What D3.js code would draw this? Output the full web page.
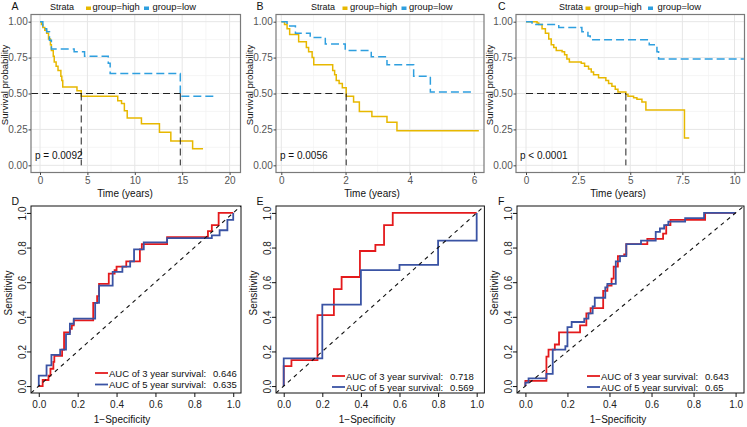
<!DOCTYPE html>
<html><head><meta charset="utf-8">
<script src="https://cdn.jsdelivr.net/npm/d3@7"></script>
<style>body{margin:0;background:#fff}svg{display:block;font-family:"Liberation Sans",Arial,sans-serif}</style>
</head><body><svg id="chart" width="747" height="427"></svg>
<script>
// ---------------- DATA ----------------
const panelLetters = ["A", "B", "C", "D", "E", "F"];
const strataTitle = "Strata";
const strataLabels = ["group=high", "group=low"];
const kmPValues = ["p = 0.0092", "p = 0.0056", "p < 0.0001"];
const kmXTicks = [[0, 5, 10, 15, 20], [0, 2, 4, 6], [0, 2.5, 5, 7.5, 10]];
const kmXTickLabels = [["0", "5", "10", "15", "20"], ["0", "2", "4", "6"], ["0", "2.5", "5", "7.5", "10"]];
const kmYTicks = [0, 0.25, 0.5, 0.75, 1];
const kmYTickLabels = ["0.00", "0.25", "0.50", "0.75", "1.00"];
const kmMedians = [[4.35, 14.8], [2.02], [4.79]];
// [time, survival] steps
const kmAHigh = [[0,1],[0.15,0.98],[0.3,0.96],[0.5,0.94],[0.7,0.92],[0.9,0.88],[1.1,0.84],[1.2,0.80],[1.4,0.76],[1.5,0.72],[1.7,0.69],[1.9,0.66],[2.2,0.62],[2.3,0.59],[2.4,0.545],[3.9,0.52],[4.35,0.48],[8.2,0.45],[8.6,0.43],[8.9,0.38],[9.2,0.33],[10.7,0.29],[12.6,0.23],[13.8,0.17],[16.1,0.115],[17.2,0.115]];
const kmALow = [[0,1],[0.3,0.95],[0.7,0.93],[1.0,0.87],[1.2,0.81],[3.6,0.79],[4.7,0.76],[7.2,0.71],[7.4,0.64],[14.8,0.48],[18.7,0.48]];
const kmBHigh = [[0,1],[0.1,0.98],[0.18,0.95],[0.26,0.91],[0.54,0.86],[0.78,0.82],[0.85,0.79],[0.96,0.75],[1.01,0.70],[1.6,0.66],[1.66,0.63],[1.71,0.59],[1.8,0.57],[1.9,0.54],[2.02,0.48],[2.25,0.44],[2.43,0.375],[2.82,0.34],[3.29,0.30],[3.6,0.24],[6.15,0.24]];
const kmBLow = [[0,1],[0.18,0.97],[0.44,0.92],[0.9,0.89],[1.37,0.845],[1.99,0.80],[2.8,0.755],[3.29,0.70],[4.12,0.62],[4.64,0.51],[5.99,0.51]];
const kmCHigh = [[0,1],[0.53,0.99],[0.61,0.98],[0.77,0.95],[0.93,0.92],[1.09,0.88],[1.21,0.84],[1.33,0.82],[1.45,0.80],[1.73,0.79],[1.85,0.77],[1.96,0.74],[2.08,0.72],[2.65,0.71],[2.81,0.69],[3.0,0.67],[3.13,0.65],[3.24,0.63],[3.48,0.61],[3.83,0.59],[3.96,0.57],[4.12,0.55],[4.28,0.53],[4.41,0.51],[4.79,0.495],[4.89,0.48],[5.16,0.47],[5.32,0.46],[5.56,0.44],[5.75,0.385],[7.60,0.19],[7.83,0.19]];
const kmCLow = [[0,1],[0.29,0.98],[1.57,0.96],[2.68,0.93],[2.97,0.90],[3.08,0.875],[5.91,0.84],[6.28,0.79],[6.36,0.74],[10.45,0.74]];

const rocTicks = [0, 0.2, 0.4, 0.6, 0.8, 1.0];
const rocTickLabels = ["0.0", "0.2", "0.4", "0.6", "0.8", "1.0"];
const rocLegendLabels = ["AUC of 3 year survival:", "AUC of 5 year survival:"];
const rocAUC = [["0.646", "0.635"], ["0.718", "0.569"], ["0.643", "0.65"]];
// [1-specificity, sensitivity] steps
const rocD3y = [[0,0],[0.02,0.035],[0.05,0.06],[0.06,0.10],[0.075,0.14],[0.08,0.175],[0.12,0.21],[0.13,0.31],[0.16,0.33],[0.17,0.35],[0.18,0.38],[0.28,0.48],[0.30,0.52],[0.31,0.59],[0.36,0.65],[0.39,0.67],[0.40,0.69],[0.45,0.72],[0.52,0.79],[0.53,0.82],[0.66,0.86],[0.87,0.895],[0.89,0.93],[0.925,1.0],[1,1]];
const rocD5y = [[0,0],[0,0.06],[0.04,0.12],[0.065,0.18],[0.11,0.21],[0.14,0.30],[0.16,0.36],[0.18,0.39],[0.29,0.48],[0.31,0.58],[0.38,0.66],[0.43,0.69],[0.47,0.72],[0.49,0.79],[0.54,0.83],[0.66,0.855],[0.89,0.87],[0.93,0.90],[0.97,0.96],[1,1]];
const rocE3y = [[0,0],[0,0.115],[0.04,0.15],[0.175,0.41],[0.26,0.56],[0.30,0.63],[0.395,0.78],[0.475,0.815],[0.52,0.93],[0.565,1.0],[1,1]];
const rocE5y = [[0,0],[0,0.16],[0.2,0.47],[0.4,0.67],[0.6,0.70],[0.8,0.84],[1,1]];
const rocF3y = [[0,0],[0,0.03],[0.1,0.17],[0.11,0.21],[0.14,0.24],[0.16,0.31],[0.26,0.35],[0.29,0.42],[0.31,0.45],[0.37,0.55],[0.39,0.58],[0.41,0.62],[0.42,0.69],[0.44,0.75],[0.47,0.76],[0.48,0.82],[0.58,0.85],[0.655,0.88],[0.67,0.93],[0.69,0.96],[0.855,1.0],[1,1]];
const rocF5y = [[0,0],[0,0.02],[0.015,0.045],[0.1,0.07],[0.13,0.21],[0.19,0.23],[0.2,0.34],[0.22,0.37],[0.28,0.39],[0.3,0.42],[0.32,0.46],[0.33,0.51],[0.38,0.57],[0.39,0.59],[0.43,0.72],[0.45,0.75],[0.48,0.82],[0.55,0.84],[0.62,0.89],[0.64,0.91],[0.66,0.93],[0.68,0.95],[0.76,0.97],[0.85,1.0],[1,1]];

// ---------------- LAYOUT / STYLE ----------------
const COL_HIGH = "#E7B800", COL_LOW = "#2E9FDF";
const COL_R3 = "#E41A1C", COL_R5 = "#3A53A4";
const FONT = '"Liberation Sans",Arial,sans-serif';
const svg = d3.select("#chart");

const kmLayout = [
  {box: {x0: 31, x1: 240.5, y0: 14.5, y1: 172.5}, xDomain: [-0.95, 21.15], minorStep: 2.5, hStart: -0.95,
   legend: {strata: 50, k1: 86, t1: 92.5, k2: 144, t2: 152.5}, letterX: 11.5, xTitle: 125},
  {box: {x0: 276, x1: 484, y0: 14.5, y1: 172.5}, xDomain: [-0.165, 6.31], minorStep: 1, hStart: 0,
   legend: {strata: 311, k1: 342.5, t1: 350, k2: 401.5, t2: 409}, letterX: 256.5, xTitle: 372},
  {box: {x0: 516, x1: 744.5, y0: 14.5, y1: 172.5}, xDomain: [-0.48, 10.48], minorStep: 1.25, hStart: 0,
   legend: {strata: 559, k1: 585.5, t1: 594.5, k2: 648, t2: 657.5}, letterX: 498, xTitle: 618}
];
const kmSeries = [[kmAHigh, kmALow], [kmBHigh, kmBLow], [kmCHigh, kmCLow]];

const rocLayout = [
  {box: {x0: 31, x1: 241, y0: 206, y1: 393}, legX: 95, legY: [373, 384.5], letterX: 11.5, xTitle: 122, yTitle: 293},
  {box: {x0: 276, x1: 484.4, y0: 206, y1: 393}, legX: 332, legY: [376, 387], letterX: 256.5, xTitle: 367, yTitle: 293},
  {box: {x0: 517, x1: 744, y0: 206, y1: 393}, legX: 587, legY: [376, 387], letterX: 498, xTitle: 618, yTitle: 293}
];
const rocSeries = [[rocD3y, rocD5y], [rocE3y, rocE5y], [rocF3y, rocF5y]];

const defs = svg.append("defs");

// ---------------- KM PANELS ----------------
kmLayout.forEach((L, i) => {
  const b = L.box;
  const x = d3.scaleLinear().domain(L.xDomain).range([b.x0, b.x1]);
  const y = d3.scaleLinear().domain([-0.05, 1.05]).range([b.y1, b.y0]);
  const g = svg.append("g");
  const cid = "kmclip" + i;
  defs.append("clipPath").attr("id", cid).append("rect")
    .attr("x", b.x0).attr("y", b.y0).attr("width", b.x1 - b.x0).attr("height", b.y1 - b.y0);

  const minorX = [];
  for (let v = kmXTicks[i][0] + L.minorStep; v < kmXTicks[i][kmXTicks[i].length - 1]; v += 2 * L.minorStep) minorX.push(v);
  const minorY = [0.125, 0.375, 0.625, 0.875];
  g.selectAll(".mx").data(minorX).join("line")
    .attr("x1", d => x(d)).attr("x2", d => x(d)).attr("y1", b.y0).attr("y2", b.y1)
    .attr("stroke", "#F2F2F2").attr("stroke-width", 0.7);
  g.selectAll(".my").data(minorY).join("line")
    .attr("y1", d => y(d)).attr("y2", d => y(d)).attr("x1", b.x0).attr("x2", b.x1)
    .attr("stroke", "#F2F2F2").attr("stroke-width", 0.7);
  g.selectAll(".gx").data(kmXTicks[i]).join("line")
    .attr("x1", d => x(d)).attr("x2", d => x(d)).attr("y1", b.y0).attr("y2", b.y1)
    .attr("stroke", "#E6E6E6").attr("stroke-width", 1);
  g.selectAll(".gy").data(kmYTicks).join("line")
    .attr("y1", d => y(d)).attr("y2", d => y(d)).attr("x1", b.x0).attr("x2", b.x1)
    .attr("stroke", "#E6E6E6").attr("stroke-width", 1);

  const line = d3.line().x(d => x(d[0])).y(d => y(d[1])).curve(d3.curveStepAfter);
  const cg = g.append("g").attr("clip-path", `url(#${cid})`);
  cg.append("path").attr("d", line(kmSeries[i][0])).attr("fill", "none")
    .attr("stroke", COL_HIGH).attr("stroke-width", 1.5);
  cg.append("path").attr("d", line(kmSeries[i][1])).attr("fill", "none")
    .attr("stroke", COL_LOW).attr("stroke-width", 1.5).attr("stroke-dasharray", "8,4");

  const meds = kmMedians[i];
  cg.append("line").attr("x1", x(L.hStart)).attr("x2", x(d3.max(meds)))
    .attr("y1", y(0.5)).attr("y2", y(0.5))
    .attr("stroke", "#222").attr("stroke-width", 1).attr("stroke-dasharray", "7,4");
  meds.forEach(m => {
    cg.append("line").attr("x1", x(m)).attr("x2", x(m)).attr("y1", y(0.5)).attr("y2", y(0))
      .attr("stroke", "#222").attr("stroke-width", 1).attr("stroke-dasharray", "7,4");
  });

  g.append("rect").attr("x", b.x0).attr("y", b.y0).attr("width", b.x1 - b.x0).attr("height", b.y1 - b.y0)
    .attr("fill", "none").attr("stroke", "#7A7A7A").attr("stroke-width", 1.2);

  const xAxis = d3.axisBottom(x).tickValues(kmXTicks[i]).tickFormat((d, k) => kmXTickLabels[i][k])
    .tickSize(2.5).tickPadding(1.5);
  const ax = g.append("g").attr("transform", `translate(0,${b.y1})`).call(xAxis);
  const yAxis = d3.axisLeft(y).tickValues(kmYTicks).tickFormat((d, k) => kmYTickLabels[k])
    .tickSize(2.5).tickPadding(0.8);
  const ay = g.append("g").attr("transform", `translate(${b.x0},0)`).call(yAxis);
  [ax, ay].forEach(a => {
    a.select(".domain").remove();
    a.selectAll(".tick line").attr("stroke", "#444");
    a.selectAll(".tick text").attr("fill", "#555").attr("font-size", 10).attr("font-family", FONT);
  });

  g.append("text").attr("x", L.xTitle).attr("y", 196.5).attr("text-anchor", "middle")
    .attr("font-size", 10).attr("fill", "#111").text("Time (years)");
  g.append("text").attr("transform", `translate(${b.x0 - 23},${85}) rotate(-90)`)
    .attr("text-anchor", "middle").attr("font-size", 9.6).attr("fill", "#111").text("Survival probability");
  g.append("text").attr("x", b.x0 + 4).attr("y", 159).attr("font-size", 10).attr("fill", "#111").text(kmPValues[i]);

  const lg = L.legend;
  g.append("text").attr("x", lg.strata).attr("y", 10).attr("font-size", 9).attr("fill", "#111").text(strataTitle);
  g.append("rect").attr("x", lg.k1).attr("y", 6.5).attr("width", 5).attr("height", 3.5).attr("fill", COL_HIGH);
  g.append("text").attr("x", lg.t1).attr("y", 10).attr("font-size", 9.4).attr("fill", "#111").text(strataLabels[0]);
  g.append("rect").attr("x", lg.k2).attr("y", 6.5).attr("width", 5).attr("height", 3.5).attr("fill", COL_LOW);
  g.append("text").attr("x", lg.t2).attr("y", 10).attr("font-size", 9.4).attr("fill", "#111").text(strataLabels[1]);

  g.append("text").attr("x", L.letterX).attr("y", 10).attr("font-size", 10.5).attr("fill", "#111").text(panelLetters[i]);
});

// ---------------- ROC PANELS ----------------
rocLayout.forEach((L, i) => {
  const b = L.box;
  const pad = 0.04;
  const x = d3.scaleLinear().domain([-pad, 1 + pad]).range([b.x0, b.x1]);
  const y = d3.scaleLinear().domain([-pad, 1 + pad]).range([b.y1, b.y0]);
  const g = svg.append("g");
  const cid = "rocclip" + i;
  defs.append("clipPath").attr("id", cid).append("rect")
    .attr("x", b.x0).attr("y", b.y0).attr("width", b.x1 - b.x0).attr("height", b.y1 - b.y0);
  const cg = g.append("g").attr("clip-path", `url(#${cid})`);

  const line = d3.line().x(d => x(d[0])).y(d => y(d[1])).curve(d3.curveStepAfter);
  cg.append("path").attr("d", line(rocSeries[i][0])).attr("fill", "none")
    .attr("stroke", COL_R3).attr("stroke-width", 1.8);
  cg.append("path").attr("d", line(rocSeries[i][1])).attr("fill", "none")
    .attr("stroke", COL_R5).attr("stroke-width", 1.8);
  cg.append("line").attr("x1", x(-pad)).attr("y1", y(-pad)).attr("x2", x(1 + pad)).attr("y2", y(1 + pad))
    .attr("stroke", "#111").attr("stroke-width", 1.1).attr("stroke-dasharray", "4,4");

  g.append("rect").attr("x", b.x0).attr("y", b.y0).attr("width", b.x1 - b.x0).attr("height", b.y1 - b.y0)
    .attr("fill", "none").attr("stroke", "#111").attr("stroke-width", 1);

  const xAxis = d3.axisBottom(x).tickValues(rocTicks).tickFormat((d, k) => rocTickLabels[k])
    .tickSize(4).tickPadding(4);
  const ax = g.append("g").attr("transform", `translate(0,${b.y1})`).call(xAxis);
  const yAxis = d3.axisLeft(y).tickValues(rocTicks).tickFormat((d, k) => rocTickLabels[k])
    .tickSize(4).tickPadding(4);
  const ay = g.append("g").attr("transform", `translate(${b.x0},0)`).call(yAxis);
  [ax, ay].forEach(a => {
    a.select(".domain").remove();
    a.selectAll(".tick line").attr("stroke", "#111");
    a.selectAll(".tick text").attr("fill", "#222").attr("font-size", 10).attr("font-family", FONT);
  });
  ay.selectAll(".tick text").each(function () {
    d3.select(this).attr("x", null).attr("dy", "0").attr("text-anchor", "middle")
      .attr("transform", "translate(-5,0) rotate(-90)");
  });

  g.append("text").attr("x", L.xTitle).attr("y", 423).attr("text-anchor", "middle")
    .attr("font-size", 10).attr("fill", "#111").text("1\u2212Specificity");
  g.append("text").attr("transform", `translate(${b.x0 - 19.5},${L.yTitle}) rotate(-90)`)
    .attr("text-anchor", "middle").attr("font-size", 10).attr("fill", "#111").text("Sensitivity");

  [COL_R3, COL_R5].forEach((c, k) => {
    g.append("line").attr("x1", L.legX).attr("x2", L.legX + 13).attr("y1", L.legY[k]).attr("y2", L.legY[k])
      .attr("stroke", c).attr("stroke-width", 1.8);
    g.append("text").attr("x", L.legX + 14).attr("y", L.legY[k] + 3.5).attr("font-size", 9.5).attr("fill", "#111")
      .text(rocLegendLabels[k]);
    g.append("text").attr("x", L.legX + 118).attr("y", L.legY[k] + 3.5).attr("font-size", 9.5).attr("fill", "#111")
      .text(rocAUC[i][k]);
  });

  g.append("text").attr("x", L.letterX).attr("y", 205).attr("font-size", 10.5).attr("fill", "#111").text(panelLetters[i + 3]);
});
</script></body></html>
